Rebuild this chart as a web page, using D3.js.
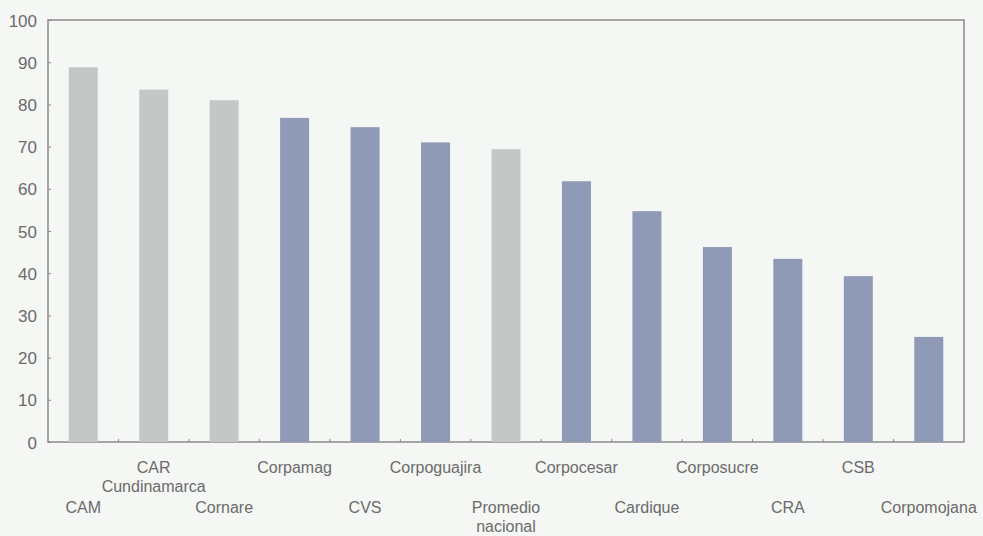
<!DOCTYPE html>
<html>
<head>
<meta charset="utf-8">
<script src="https://cdn.jsdelivr.net/npm/d3@7"></script>
<style>
  body { margin: 0; background: #f4f7f3; }
  svg { display: block; }
  .axis text { font-family: "Liberation Sans", Arial, sans-serif; fill: #6b6b6b; }
</style>
</head>
<body>
<div id="chart"></div>
<script>
// data
const categories = ['CAM', 'CAR\nCundinamarca', 'Cornare', 'Corpamag', 'CVS', 'Corpoguajira',
    'Promedio\nnacional', 'Corpocesar', 'Cardique', 'Corposucre', 'CRA', 'CSB', 'Corpomojana'];
const values = [88.8, 83.5, 81, 76.8, 74.6, 71, 69.4, 61.8, 54.7, 46.2, 43.4, 39.3, 24.9];
const groups = ['a', 'a', 'a', 'b', 'b', 'b', 'a', 'b', 'b', 'b', 'b', 'b', 'b'];
const yTicks = [0, 10, 20, 30, 40, 50, 60, 70, 80, 90, 100];

const margin = { top: 20, right: 19, bottom: 94, left: 48 };
const width = 983 - margin.left - margin.right;
const height = 536 - margin.top - margin.bottom;

const svg = d3.select('#chart')
    .append('svg')
    .attr('width', width + margin.left + margin.right)
    .attr('height', height + margin.top + margin.bottom);

const group = svg.append('g')
    .attr('transform', 'translate(' + margin.left + ',' + margin.top + ')');

const xScale = d3.scaleBand().domain(categories).range([0, width]);
const yScale = d3.scaleLinear().domain([0, 100]).range([height, 0]);
const colorScale = d3.scaleOrdinal().domain(['a', 'b']).range(['#c5c7c7', '#8f9ab7']);

// frame
group.append('rect')
    .attr('width', width)
    .attr('height', height)
    .attr('fill', 'none')
    .attr('stroke', '#8a8a8a')
    .attr('stroke-width', 1.5);

// bars
const barWidth = 29;
group.selectAll('rect.bar')
    .data(values)
    .enter()
    .append('rect')
    .attr('class', 'bar')
    .attr('x', (d, i) => xScale(categories[i]) + xScale.bandwidth() / 2 - barWidth / 2)
    .attr('y', d => yScale(d))
    .attr('width', barWidth)
    .attr('height', d => height - yScale(d))
    .attr('fill', (d, i) => colorScale(groups[i]));

// y axis
const yAxis = d3.axisLeft(yScale).tickValues(yTicks).tickSize(-3).tickPadding(11);
const yAxisGroup = group.append('g').attr('class', 'axis').call(yAxis);
yAxisGroup.select('.domain').remove();
yAxisGroup.selectAll('line').attr('stroke', '#8a8a8a');
yAxisGroup.selectAll('text').style('font-size', '17px').attr('dy', '0.36em');

// x ticks between the bands
const sepTicks = categories.slice(1);
group.selectAll('line.sep')
    .data(sepTicks)
    .enter()
    .append('line')
    .attr('class', 'sep')
    .attr('x1', d => xScale(d))
    .attr('x2', d => xScale(d))
    .attr('y1', height)
    .attr('y2', height - 3)
    .attr('stroke', '#8a8a8a');

// x labels, alternating rows
const labels = group.append('g').attr('class', 'axis');
labels.selectAll('text')
    .data(categories)
    .enter()
    .append('text')
    .attr('text-anchor', 'middle')
    .attr('transform', (d, i) => 'translate(' + (xScale(d) + xScale.bandwidth() / 2) + ',' +
        (height + (i % 2 === 1 ? 31 : 71)) + ')')
    .style('font-size', '16px')
    .each(function (d) {
        const lines = d.split('\n');
        d3.select(this).selectAll('tspan')
            .data(lines)
            .enter()
            .append('tspan')
            .attr('x', 0)
            .attr('y', (l, j) => j * 19)
            .text(l => l);
    });
</script>
</body>
</html>
